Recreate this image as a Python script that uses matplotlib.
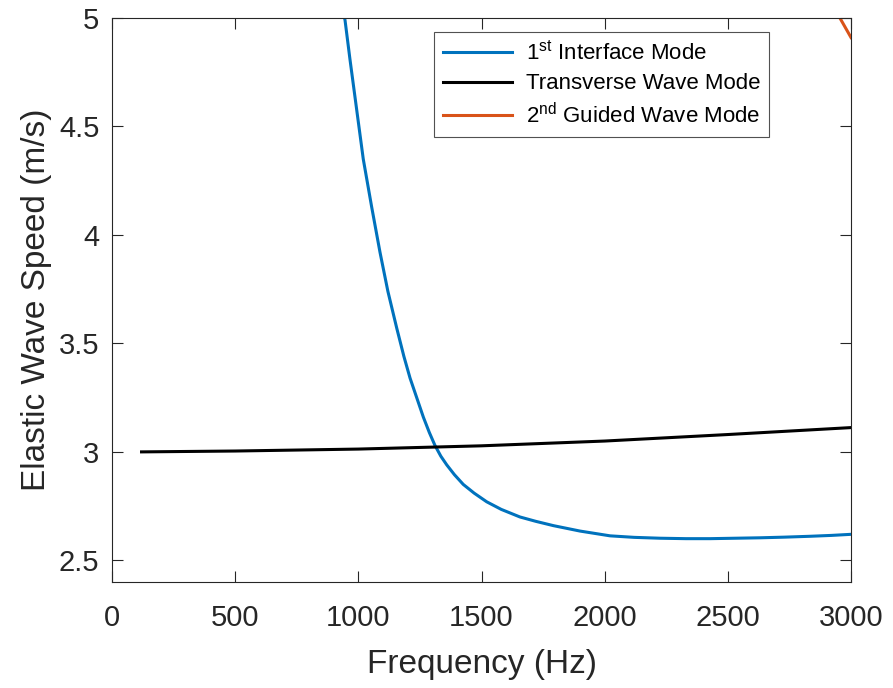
import matplotlib
matplotlib.use("Agg")
import matplotlib.pyplot as plt
import numpy as np

plt.rcParams['font.family'] = ['Liberation Sans', 'DejaVu Sans']
plt.rcParams['mathtext.fontset'] = 'custom'
plt.rcParams['mathtext.rm'] = 'Liberation Sans'
plt.rcParams['mathtext.it'] = 'Liberation Sans:italic'

# 1st interface mode (blue)
f_interface = [935, 946, 966, 993, 1020, 1054, 1088, 1120, 1156, 1185, 1210, 1237,
               1264, 1288, 1311, 1335, 1359, 1390, 1426, 1470, 1521, 1580, 1656,
               1720, 1792, 1900, 2022, 2120, 2225, 2330, 2428, 2530, 2631, 2730,
               2834, 2920, 3000]
v_interface = [5.05, 4.99, 4.81, 4.58, 4.35, 4.13, 3.92, 3.74, 3.57, 3.44, 3.34, 3.25,
               3.16, 3.09, 3.03, 2.98, 2.94, 2.895, 2.85, 2.81, 2.77, 2.735, 2.70,
               2.68, 2.66, 2.635, 2.613, 2.606, 2.602, 2.600, 2.600, 2.602, 2.604,
               2.607, 2.611, 2.615, 2.62]

# transverse wave mode (black)
f_transverse = [120, 500, 1000, 1500, 2000, 2500, 3000]
v_transverse = [3.000, 3.004, 3.013, 3.028, 3.050, 3.080, 3.112]

# 2nd guided wave mode (orange)
f_guided = [2940, 2970, 3000]
v_guided = [5.03, 4.97, 4.91]

fig = plt.figure(figsize=(8.93, 6.88), dpi=100)
ax = fig.add_axes([0.1254, 0.154, 0.8276, 0.8198])

ax.plot(f_interface, v_interface, color='#0072BD', lw=2.2,
        label='1$^{\\mathrm{st}}$ Interface Mode')
ax.plot(f_transverse, v_transverse, color='black', lw=2.2,
        label='Transverse Wave Mode')
ax.plot(f_guided, v_guided, color='#D95319', lw=2.2,
        label='2$^{\\mathrm{nd}}$ Guided Wave Mode')

ax.set_xlim(0, 3000)
ax.set_ylim(2.4, 5)
ax.set_xticks([0, 500, 1000, 1500, 2000, 2500, 3000])
ax.set_yticks([2.5, 3, 3.5, 4, 4.5, 5])
ax.set_yticklabels(['2.5', '3', '3.5', '4', '4.5', '5'])
ax.tick_params(direction='in', top=True, right=True, labelsize=21,
               length=8, width=0.8, color='#262626', labelcolor='#262626')
ax.tick_params(axis='x', pad=16)
ax.tick_params(axis='y', pad=9)
for s in ax.spines.values():
    s.set_color('#262626')
    s.set_linewidth(0.8)

ax.set_xlabel('Frequency (Hz)', fontsize=24, color='#262626', labelpad=12)
ax.set_ylabel('Elastic Wave Speed (m/s)', fontsize=24, color='#262626', labelpad=5)

leg = ax.legend(loc='upper right', bbox_to_anchor=(0.889, 0.975), borderaxespad=0,
                fontsize=16, fancybox=False, edgecolor='#262626',
                handlelength=3.1, handletextpad=0.6, labelspacing=0.38,
                borderpad=0.4)
leg.get_frame().set_linewidth(0.8)

fig.savefig('out.png', dpi=100)
